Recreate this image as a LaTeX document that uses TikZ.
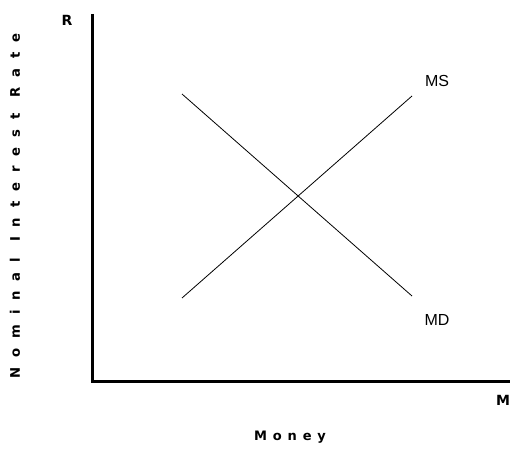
\documentclass[tikz,border=0pt]{standalone}
\usepackage{fontspec}
\setmainfont{Liberation Sans}
\newfontfamily\heavy{DejaVu Sans Bold}
\newfontfamily\spaced[LetterSpace=75]{DejaVu Sans Bold}
\newfontfamily\spacedx[LetterSpace=45]{DejaVu Sans Bold}
\begin{document}
\begin{tikzpicture}[x=1pt,y=-1pt,
  axis/.style={line width=3pt},
  curve/.style={line width=0.8pt},
  curvelabel/.style={font=\fontsize{16}{18}\selectfont},
  axislabel/.style={font=\heavy\fontsize{14}{16}\selectfont},
  titlelabel/.style={font=\spaced\fontsize{13.2}{15}\selectfont},
  xtitlelabel/.style={font=\spacedx\fontsize{13}{15}\selectfont}]
\useasboundingbox (0,0) rectangle (510,449);
\coordinate (top) at (92,14);
\coordinate (origin) at (92,381);
\coordinate (right) at (510,381);
\draw[axis] (top) -- (origin) -- (right);
\coordinate (ms1) at (182,298);
\coordinate (ms2) at (412,96);
\coordinate (md1) at (182,94);
\coordinate (md2) at (412,296);
\draw[curve] (ms1) -- (ms2);
\draw[curve] (md1) -- (md2);
\node[curvelabel] (MS) at (437,81) {MS};
\node[curvelabel] (MD) at (437,320) {MD};
\node[axislabel] (R) at (67,20) {R};
\node[axislabel] (M) at (503,400) {M};
\node[xtitlelabel] (money) at (290,437) {Money};
\node[titlelabel,rotate=90] (rate) at (15,206) {Nominal\hspace{1.2em}Interest\hspace{1.2em}Rate};
\end{tikzpicture}
\end{document}
